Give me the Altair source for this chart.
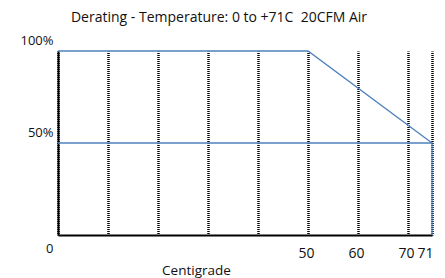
import altair as alt
import pandas as pd

# Series data (temperature in C, load in %)
upper_temp = [0, 50, 71]
upper_load = [100, 100, 50]
lower_temp = [0, 71, 71]
lower_load = [50, 50, 0]

x_ticks = [0, 10, 20, 30, 40, 50, 60, 70, 71]
x_labelled = [50, 60, 70, 71]
y_ticks = [0, 50, 100]

rows = []
for i, (t, v) in enumerate(zip(upper_temp, upper_load)):
    rows.append({"series": "upper", "temp": t, "load": v, "step": i})
for i, (t, v) in enumerate(zip(lower_temp, lower_load)):
    rows.append({"series": "lower", "temp": t, "load": v, "step": i})
df = pd.DataFrame(rows)

FONT = "Open Sans"
W, H = 374, 184

lab_test = " || ".join(f"datum.value == {v}" for v in x_labelled)

x_scale = alt.Scale(domain=[0, 70, 71], range=[0, 350, W], nice=False, zero=False)
y_scale = alt.Scale(domain=[0, 100], nice=False)

x_axis = alt.Axis(
    values=x_ticks,
    labelExpr=f"({lab_test}) ? datum.label : ''",
    grid=True,
    gridColor="black",
    gridDash=[1, 1],
    gridDashOffset=0.5,
    gridWidth=2.5,
    gridOpacity=1,
    ticks=False,
    domainColor="black",
    domainWidth=2,
    labelFont=FONT,
    labelFontSize=14,
    labelColor="#111",
    labelPadding=11,
    labelAlign={"condition": {"test": "datum.value == 71", "value": "right"}, "value": "center"},
    labelOffset={"condition": {"test": "datum.value == 71", "value": 1}, "value": -2},
    title="Centigrade",
    titleFont=FONT,
    titleFontSize=13.5,
    titleFontWeight="normal",
    titleColor="#111",
    titleX=138,
    titleY=35,
    titleAlign="center",
    titleBaseline="middle",
    titleAnchor="start",
    labelFlush=False,
    labelOverlap=False,
)

y_axis = alt.Axis(
    values=y_ticks,
    labelExpr="datum.value == 0 ? '0' : datum.value + '%'",
    grid=False,
    ticks=False,
    domainColor="black",
    domainWidth=2,
    labelFont=FONT,
    labelFontSize=13,
    labelColor="#111",
    labelPadding=5,
    labelBaseline="middle",
    labelOffset={"condition": {"test": "datum.value == 0", "value": 13},
                 "value": -10.5},
    labelFlush=False,
    labelOverlap=False,
    title=None,
)

lines = alt.Chart(df).mark_line(color="#4f81bd", strokeWidth=1.3).encode(
    x=alt.X("temp:Q", scale=x_scale, axis=x_axis),
    y=alt.Y("load:Q", scale=y_scale, axis=y_axis),
    detail="series:N",
    order="step:O",
)

chart = lines.properties(
    width=W,
    height=H,
    title=alt.TitleParams(
        "Derating - Temperature: 0 to +71C\u00a0\u00a020CFM Air",
        font=FONT,
        fontSize=14,
        fontWeight="normal",
        color="#111",
        anchor="middle",
        dx=-26,
        offset=10,
    ),
    autosize=alt.AutoSizeParams(type="none"),
    padding={"left": 50, "top": 43, "right": 5, "bottom": 45},
).configure_view(stroke=None)

chart.save("out.html", embed_options={"renderer": "svg", "actions": False})
